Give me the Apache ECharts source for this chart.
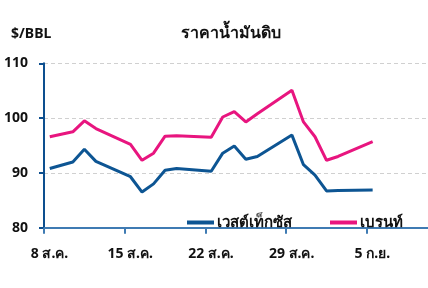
<!DOCTYPE html>
<html>
<head>
<meta charset="utf-8">
<script src="https://cdn.jsdelivr.net/npm/echarts@6/dist/echarts.min.js"></script>
<style>
  html, body {margin: 0; padding: 0; background: #fff;}
  #chart {width: 428px; height: 288px;}
</style>
</head>
<body>
<div id="chart"></div>
<script>
// trading days shown in the chart
const dates = ['2022-08-08', '2022-08-10', '2022-08-11', '2022-08-12', '2022-08-15', '2022-08-16',
  '2022-08-17', '2022-08-18', '2022-08-19', '2022-08-22', '2022-08-23', '2022-08-24', '2022-08-25',
  '2022-08-26', '2022-08-29', '2022-08-30', '2022-08-31', '2022-09-01', '2022-09-02', '2022-09-05'];
const wti = [90.8, 92.0, 94.3, 92.1, 89.3, 86.5, 88.0, 90.5, 90.8, 90.3, 93.6, 94.9, 92.5,
  93.0, 96.9, 91.5, 89.6, 86.7, 86.8, 86.9];
const brent = [96.6, 97.5, 99.5, 98.1, 95.2, 92.3, 93.6, 96.7, 96.8, 96.5, 100.2, 101.2, 99.3,
  100.8, 105.1, 99.3, 96.6, 92.3, 93.0, 95.7];
const tickLabels = ['8 ส.ค.', '15 ส.ค.', '22 ส.ค.', '29 ส.ค.', '5 ก.ย.'];
const seriesNames = ['เวสต์เท็กซัส', 'เบรนท์'];

const DAY = 86400000;
const start = Date.UTC(2022, 7, 8);
// points sit in the middle of their day
const dayPos = dates.map(d => (Date.parse(d + 'T00:00:00Z') - start) / DAY + 0.5);

const font = '"Noto Sans", "DejaVu Sans", sans-serif';
const legendBase = {
  top: 210,
  itemWidth: 27, itemHeight: 4,
  icon: 'rect',
  textStyle: {fontSize: 15, fontWeight: 'bold', color: '#111', padding: [0, 0, 0, -2]}
};

const myChart = echarts.init(document.getElementById('chart'));
myChart.setOption({
  animation: false,
  color: ['#0d5593', '#e8157f'],
  textStyle: {fontFamily: font},
  title: [
    {
      text: 'ราคาน้ำมันดิบ',
      left: 226, top: 20, textAlign: 'center',
      textStyle: {fontSize: 16, fontWeight: 'bold', color: '#111', fontFamily: font}
    },
    {
      text: '$/BBL',
      left: 6, top: 22,
      textStyle: {fontSize: 14, fontWeight: 'bold', color: '#111', fontFamily: font}
    }
  ],
  legend: [
    {...legendBase, left: 182, data: [seriesNames[0]]},
    {...legendBase, left: 325, data: [seriesNames[1]]}
  ],
  grid: {left: 44, right: 0, top: 63.3, bottom: 60.3},
  xAxis: {
    type: 'value',
    min: 0, max: 33.3, interval: 7,
    axisLine: {lineStyle: {color: '#3f7bb3', width: 2}},
    axisTick: {show: true, length: 6, lineStyle: {color: '#3f7bb3', width: 2}},
    splitLine: {show: false},
    axisLabel: {
      showMaxLabel: false,
      margin: 19,
      padding: [0, 0, 0, 11],
      fontSize: 14, fontWeight: 'bold', color: '#111',
      formatter: v => (v % 7 === 0 ? tickLabels[v / 7] || '' : '')
    }
  },
  yAxis: {
    type: 'value',
    min: 80, max: 110, interval: 10,
    axisLine: {show: true, lineStyle: {color: '#0d4f8f', width: 2}},
    axisTick: {show: true, length: 5, lineStyle: {color: '#0d4f8f', width: 2}},
    splitLine: {lineStyle: {color: '#d0d0d0', type: [4, 3], width: 1}},
    axisLabel: {margin: 16, fontSize: 14, fontWeight: 'bold', color: '#111'}
  },
  series: [wti, brent].map((vals, i) => ({
    name: seriesNames[i],
    type: 'line',
    data: vals.map((v, j) => [dayPos[j], v]),
    symbol: 'none',
    lineStyle: {width: 3}
  }))
});
</script>
</body>
</html>
